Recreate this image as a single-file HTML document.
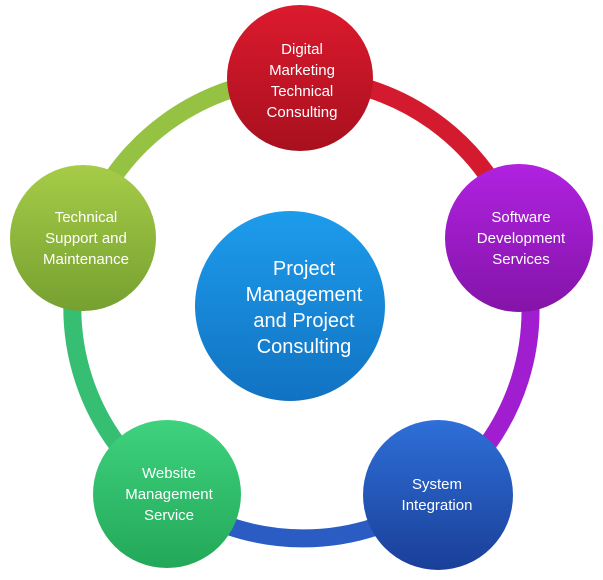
<!DOCTYPE html>
<html><head><style>
body{margin:0;background:#fff;}
svg{display:block}
text{font-family:"Liberation Sans",sans-serif;fill:#fff;text-anchor:middle}
</style></head><body>
<svg width="603" height="580" viewBox="0 0 603 580">
<defs>
<linearGradient id="gr" x1="0" y1="0" x2="0" y2="1"><stop offset="0" stop-color="#dc1a2e"/><stop offset="1" stop-color="#a8101e"/></linearGradient>
<linearGradient id="gp" x1="0" y1="0" x2="0" y2="1"><stop offset="0" stop-color="#b022e0"/><stop offset="1" stop-color="#8414a8"/></linearGradient>
<linearGradient id="gb" x1="0" y1="0" x2="0" y2="1"><stop offset="0" stop-color="#2e6fd8"/><stop offset="1" stop-color="#1a3f98"/></linearGradient>
<linearGradient id="gg" x1="0" y1="0" x2="0" y2="1"><stop offset="0" stop-color="#3fd27e"/><stop offset="1" stop-color="#22a858"/></linearGradient>
<linearGradient id="gy" x1="0" y1="0" x2="0" y2="1"><stop offset="0" stop-color="#a6cc48"/><stop offset="1" stop-color="#76a030"/></linearGradient>
<linearGradient id="gc" x1="0" y1="0" x2="0" y2="1"><stop offset="0" stop-color="#1d9cec"/><stop offset="1" stop-color="#1272c2"/></linearGradient>
</defs>
<g fill="none" stroke-width="18">
<path d="M300 78 A231 231 0 0 1 519 238" stroke="#d41a2e"/>
<path d="M519 238 A231 231 0 0 1 438 495" stroke="#a01ed0"/>
<path d="M438 495 A231 231 0 0 1 167 494" stroke="#2a5cc4"/>
<path d="M167 494 A231 231 0 0 1 83 238" stroke="#36bf72"/>
<path d="M83 238 A231 231 0 0 1 300 78" stroke="#96c244"/>
</g>
<circle cx="300" cy="78" r="73" fill="url(#gr)"/>
<circle cx="519" cy="238" r="74" fill="url(#gp)"/>
<circle cx="438" cy="495" r="75" fill="url(#gb)"/>
<circle cx="167" cy="494" r="74" fill="url(#gg)"/>
<circle cx="83" cy="238" r="73" fill="url(#gy)"/>
<circle cx="290" cy="306" r="95" fill="url(#gc)"/>
<g font-size="15">
<text x="302" y="54">Digital</text><text x="302" y="75">Marketing</text><text x="302" y="96">Technical</text><text x="302" y="117">Consulting</text>
<text x="521" y="222">Software</text><text x="521" y="243">Development</text><text x="521" y="264">Services</text>
<text x="437" y="489">System</text><text x="437" y="510">Integration</text>
<text x="169" y="478">Website</text><text x="169" y="499">Management</text><text x="169" y="520">Service</text>
<text x="86" y="222">Technical</text><text x="86" y="243">Support and</text><text x="86" y="264">Maintenance</text>
</g>
<g font-size="20">
<text x="304" y="275">Project</text><text x="304" y="301">Management</text><text x="304" y="327">and Project</text><text x="304" y="353">Consulting</text>
</g>
</svg>
</body></html>
